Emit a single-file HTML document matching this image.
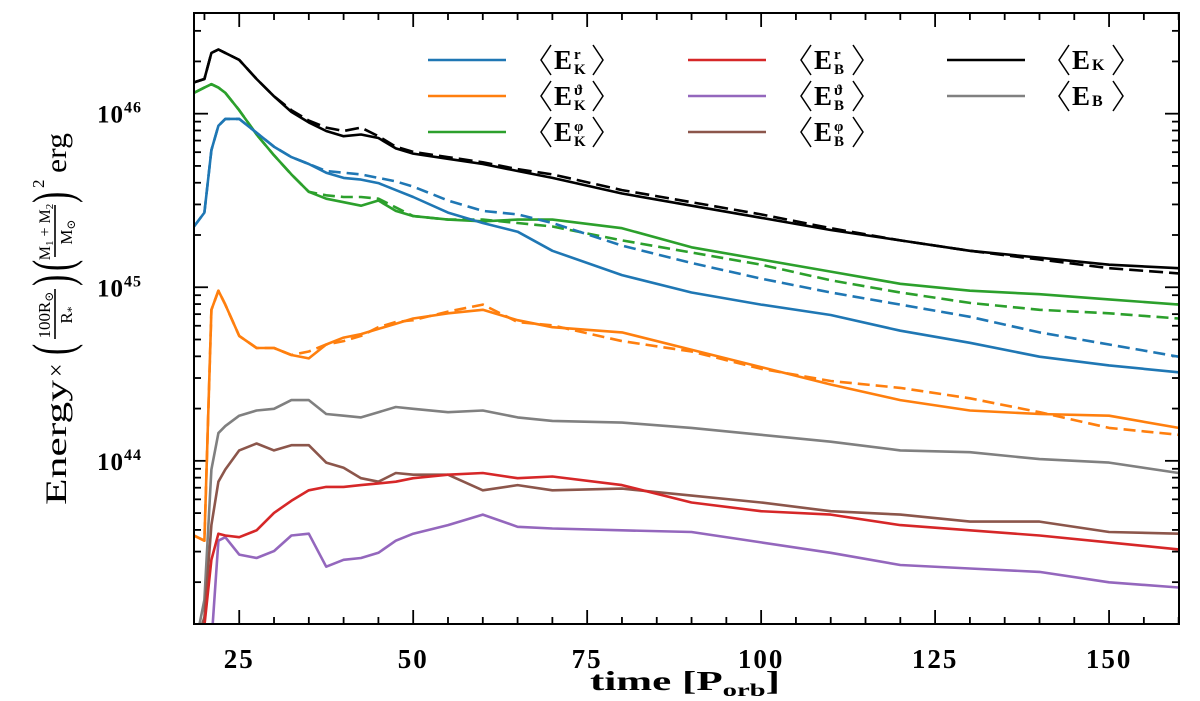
<!DOCTYPE html>
<html><head><meta charset="utf-8">
<style>
html,body{margin:0;padding:0;background:#fff;}
svg{display:block;font-family:"Liberation Serif","DejaVu Serif",serif;}
</style></head>
<body>
<svg id="chart" width="1200" height="701" viewBox="0 0 1200 701" xmlns="http://www.w3.org/2000/svg">
<defs><clipPath id="plotclip"><rect x="194" y="13" width="985" height="611"/></clipPath></defs>
<rect x="0" y="0" width="1200" height="701" fill="#fff"/>
<g id="ticks"></g>
<g id="series" clip-path="url(#plotclip)"></g>
<rect x="194" y="13" width="985" height="611" fill="none" stroke="#000" stroke-width="2"/>
<g id="xlabels" font-weight="bold" font-size="27" text-anchor="middle" letter-spacing="2"></g>
<g id="ylabels" font-weight="bold"></g>
<text x="590" y="690" font-size="27" font-weight="bold" textLength="190" lengthAdjust="spacingAndGlyphs">time [P<tspan font-size="18" dy="6">orb</tspan><tspan dy="-6">]</tspan></text>
<g transform="translate(66,505) rotate(-90)">
  <text x="0" y="0" font-size="30" textLength="125" lengthAdjust="spacingAndGlyphs">Energy</text>
  <text x="128" y="-2" font-size="24">×</text>
  <text x="150" y="5" font-size="56" transform="translate(150,0) scale(0.6,1) translate(-150,0)">(</text>
  <text x="190" y="-16" font-size="17" text-anchor="middle">100R<tspan font-size="12" dy="3">⊙</tspan></text>
  <line x1="166" y1="-11" x2="216" y2="-11" stroke="#000" stroke-width="1.6"/>
  <text x="190" y="6" font-size="17" text-anchor="middle">R<tspan font-size="12" dy="3">*</tspan></text>
  <text x="219" y="5" font-size="56" transform="translate(219,0) scale(0.6,1) translate(-219,0)">)</text>
  <text x="234" y="5" font-size="56" transform="translate(234,0) scale(0.6,1) translate(-234,0)">(</text>
  <text x="273" y="-16" font-size="16" text-anchor="middle">M<tspan font-size="11" dy="3">1</tspan><tspan dy="-3"> + M</tspan><tspan font-size="11" dy="3">2</tspan></text>
  <line x1="248" y1="-11" x2="300" y2="-11" stroke="#000" stroke-width="1.6"/>
  <text x="273" y="6" font-size="17" text-anchor="middle">M<tspan font-size="12" dy="3">⊙</tspan></text>
  <text x="302" y="5" font-size="56" transform="translate(302,0) scale(0.6,1) translate(-302,0)">)</text>
  <text x="317" y="-22" font-size="17">2</text>
  <text x="332" y="0" font-size="30" textLength="40" lengthAdjust="spacingAndGlyphs">erg</text>
</g>
<g id="legend"></g>
</svg>
<script>
// ---- data (log10 of energy in erg) ----
const times = [18.5,20,21,22,23,25,27.5,30,32.5,35,37.5,40,42.5,45,47.5,50,55,60,65,70,80,90,100,110,120,130,140,150,160];
const logEK = [46.18,46.20,46.35,46.37,46.35,46.31,46.20,46.10,46.01,45.95,45.90,45.87,45.88,45.86,45.80,45.77,45.74,45.71,45.67,45.63,45.54,45.47,45.40,45.33,45.27,45.21,45.17,45.13,45.11];
const logEKdash = [46.18,46.20,46.35,46.37,46.35,46.31,46.20,46.10,46.02,45.96,45.92,45.90,45.92,45.87,45.81,45.78,45.75,45.72,45.68,45.65,45.56,45.49,45.42,45.34,45.27,45.21,45.16,45.11,45.08];
const logEKr = [45.35,45.43,45.79,45.93,45.97,45.97,45.89,45.81,45.75,45.71,45.66,45.63,45.62,45.60,45.56,45.52,45.43,45.37,45.32,45.21,45.07,44.97,44.90,44.84,44.75,44.68,44.60,44.55,44.51];
const logEKrDash = [45.35,45.43,45.79,45.93,45.97,45.97,45.89,45.81,45.75,45.71,45.67,45.66,45.65,45.63,45.61,45.58,45.50,45.44,45.42,45.37,45.24,45.14,45.05,44.97,44.90,44.83,44.74,44.67,44.60];
const logEKphi = [46.12,46.15,46.17,46.15,46.12,46.02,45.88,45.76,45.65,45.55,45.51,45.49,45.47,45.50,45.44,45.41,45.39,45.38,45.39,45.39,45.34,45.23,45.16,45.09,45.02,44.98,44.96,44.93,44.90];
const logEKphiDash = [46.12,46.15,46.17,46.15,46.12,46.02,45.88,45.76,45.65,45.55,45.53,45.52,45.52,45.51,45.46,45.41,45.39,45.39,45.37,45.35,45.27,45.20,45.13,45.04,44.97,44.91,44.87,44.85,44.82];
const logEKth = [43.57,43.54,44.87,44.98,44.90,44.72,44.65,44.65,44.61,44.59,44.67,44.71,44.73,44.76,44.79,44.82,44.85,44.87,44.81,44.77,44.74,44.64,44.54,44.44,44.35,44.29,44.27,44.26,44.19];
const logEKthDash = [43.57,43.54,44.87,44.98,44.90,44.72,44.65,44.65,44.61,44.63,44.67,44.69,44.72,44.77,44.80,44.81,44.86,44.90,44.80,44.78,44.69,44.63,44.53,44.46,44.42,44.36,44.28,44.19,44.15];
const logEB = [42.9,43.20,43.95,44.16,44.20,44.26,44.29,44.30,44.35,44.35,44.27,44.26,44.25,44.28,44.31,44.30,44.28,44.29,44.25,44.23,44.22,44.19,44.15,44.11,44.06,44.05,44.01,43.99,43.93];
const logEBphi = [42.9,43.1,43.63,43.88,43.95,44.06,44.10,44.06,44.09,44.09,43.99,43.96,43.90,43.88,43.93,43.92,43.92,43.83,43.86,43.83,43.84,43.80,43.76,43.71,43.69,43.65,43.65,43.59,43.58];
const logEBr = [42.9,43.05,43.43,43.58,43.57,43.56,43.60,43.70,43.77,43.83,43.85,43.85,43.86,43.87,43.88,43.90,43.92,43.93,43.90,43.91,43.86,43.76,43.71,43.69,43.63,43.60,43.57,43.53,43.49];
const logEBth = [42.9,42.9,42.95,43.54,43.56,43.46,43.44,43.48,43.57,43.58,43.39,43.43,43.44,43.47,43.54,43.58,43.63,43.69,43.62,43.61,43.60,43.59,43.53,43.47,43.40,43.38,43.36,43.30,43.27];
const xMajorTicks = [25,50,75,100,125,150];
const yMajorExps = [44,45,46];

// ---- axes ----
const X0=194, X1=1179, Y0=13, Y1=624;
const tMin=18.5, tMax=160.05, lMin=43.06, lMax=46.58;
function xs(t){return X0+(t-tMin)/(tMax-tMin)*(X1-X0);}
function ys(l){return Y0+(lMax-l)/(lMax-lMin)*(Y1-Y0);}
const NS="http://www.w3.org/2000/svg";
function mk(tag,attrs,parent){const e=document.createElementNS(NS,tag);for(const k in attrs)e.setAttribute(k,attrs[k]);parent.appendChild(e);return e;}

const ticks=document.getElementById('ticks');
for(let t=20;t<=160;t+=5){
  const major=xMajorTicks.includes(t); const L=major?14:7; const x=xs(t);
  const a=mk('line',{x1:x,x2:x,y1:Y1,y2:Y1-L,stroke:'#000','stroke-width':1.8},ticks);
  
  
  const b=mk('line',{x1:x,x2:x,y1:Y0,y2:Y0+L,stroke:'#000','stroke-width':1.8},ticks);
  
  
}
for(let n=43;n<=46;n++){
  for(let k=1;k<=9;k++){
    const l=n+Math.log10(k); if(l<lMin||l>lMax) continue;
    const L=(k===1)?14:7; const y=ys(l);
    const a=mk('line',{x1:X0,x2:X0+L,y1:y,y2:y,stroke:'#000','stroke-width':1.8},ticks);
    
    
    const b=mk('line',{x1:X1,x2:X1-L,y1:y,y2:y,stroke:'#000','stroke-width':1.8},ticks);
    
    
  }
}
const xl=document.getElementById('xlabels');
xMajorTicks.forEach(t=>{
  const e=mk('text',{x:xs(t),y:668},xl); e.textContent=String(t);
  
  
});
const yl=document.getElementById('ylabels');
yMajorExps.forEach(n=>{
  const y=ys(n);
  const e=mk('text',{x:97,y:y+9,'font-size':25,'letter-spacing':1},yl);
  
  
  e.textContent='10';
  const s=mk('tspan',{'font-size':16,dy:-10},e); s.textContent=String(n);
});

// ---- series ----
const series=[
  {name:'eb-total-line',v:logEB,c:'#808080',d:null},
  {name:'eb-phi-line',v:logEBphi,c:'#8c564b',d:null},
  {name:'eb-theta-line',v:logEBth,c:'#9467bd',d:null},
  {name:'eb-r-line',v:logEBr,c:'#d62728',d:null},
  {name:'ek-theta-dashed-line',v:logEKthDash,c:'#ff7f0e',d:'12 6'},
  {name:'ek-theta-line',v:logEKth,c:'#ff7f0e',d:null},
  {name:'ek-phi-dashed-line',v:logEKphiDash,c:'#2ca02c',d:'12 6'},
  {name:'ek-phi-line',v:logEKphi,c:'#2ca02c',d:null},
  {name:'ek-r-dashed-line',v:logEKrDash,c:'#1f77b4',d:'12 6'},
  {name:'ek-r-line',v:logEKr,c:'#1f77b4',d:null},
  {name:'ek-total-dashed-line',v:logEKdash,c:'#000',d:'14 6'},
  {name:'ek-total-line',v:logEK,c:'#000',d:null}
];
const sg=document.getElementById('series');
series.forEach(s=>{
  const pts=times.map((t,i)=>xs(t).toFixed(1)+','+ys(s.v[i]).toFixed(1)).join(' ');
  const a={points:pts,fill:'none',stroke:s.c,'stroke-width':2.6,'stroke-linejoin':'round'};
  if(s.d)a['stroke-dasharray']=s.d;
  const p=mk('polyline',a,sg);
  
  
});

// ---- legend ----
const legendItems=[
  {col:0,row:0,c:'#1f77b4',sup:'r',sub:'K'},
  {col:0,row:1,c:'#ff7f0e',sup:'ϑ',sub:'K'},
  {col:0,row:2,c:'#2ca02c',sup:'φ',sub:'K'},
  {col:1,row:0,c:'#d62728',sup:'r',sub:'B'},
  {col:1,row:1,c:'#9467bd',sup:'ϑ',sub:'B'},
  {col:1,row:2,c:'#8c564b',sup:'φ',sub:'B'},
  {col:2,row:0,c:'#000',sup:'',sub:'K'},
  {col:2,row:1,c:'#808080',sup:'',sub:'B'}
];
const colLine=[428,688,947], colText=[540,800,1058], rowY=[60,96,132];
const lg=document.getElementById('legend');
legendItems.forEach(it=>{
  const g=mk('g',{},lg);
  
  
  const y=rowY[it.row], lx=colLine[it.col], tx=colText[it.col];
  mk('line',{x1:lx,x2:lx+78,y1:y,y2:y,stroke:it.c,'stroke-width':2.6},g);
  mk('polyline',{points:`${tx+11},${y-15} ${tx+1},${y} ${tx+11},${y+15}`,fill:'none',stroke:'#000','stroke-width':1.5},g);
  const t=mk('text',{x:tx+14,y:y+9,'font-size':27,'font-weight':'bold'},g);
  t.textContent='E';
  let endX;
  if(it.sup){
    const su=mk('text',{x:tx+34,y:y-1,'font-size':15,'font-weight':'bold'},g); su.textContent=it.sup;
    const sb=mk('text',{x:tx+34,y:y+14,'font-size':15,'font-weight':'bold'},g); sb.textContent=it.sub;
    endX=tx+53;
  } else {
    const sb=mk('text',{x:tx+34,y:y+10,'font-size':16,'font-weight':'bold'},g); sb.textContent=it.sub;
    endX=tx+55;
  }
  mk('polyline',{points:`${endX},${y-15} ${endX+10},${y} ${endX},${y+15}`,fill:'none',stroke:'#000','stroke-width':1.5},g);
});
</script>
</body></html>
